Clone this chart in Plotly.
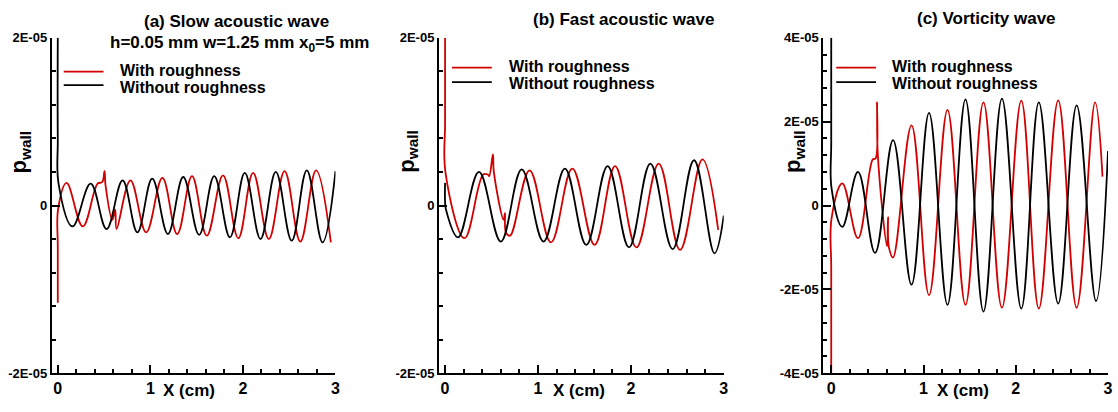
import plotly.graph_objects as go

W, H = 1118, 412
RED = "#d20000"
FONT = "Liberation Sans, Arial, sans-serif"

# ---- data (x in cm, p_wall in units of 1E-05) ----
a_black_x = [0.0, 0.0, 0.01, 0.16, 0.355, 0.527, 0.70, 0.86, 1.02, 1.19, 1.355, 1.527, 1.69, 1.86, 2.02, 2.19, 2.355, 2.527, 2.69, 2.86, 3.0]
a_black_y = [2.0, 0.8, 0.25, -0.25, 0.26, -0.28, 0.30, -0.32, 0.32, -0.34, 0.34, -0.35, 0.35, -0.38, 0.39, -0.40, 0.40, -0.42, 0.42, -0.44, 0.41]
a_red_x = [0.0, 0.0, 0.005, 0.095, 0.27, 0.43, 0.48, 0.505, 0.515, 0.59, 0.62, 0.635, 0.785, 0.955, 1.13, 1.29, 1.45, 1.61, 1.785, 1.95, 2.11, 2.28, 2.45, 2.62, 2.79, 2.95]
a_red_y = [-1.16, -0.5, -0.03, 0.27, -0.25, 0.26, 0.28, 0.41, 0.25, -0.17, -0.05, -0.28, 0.30, -0.32, 0.33, -0.34, 0.35, -0.36, 0.36, -0.39, 0.39, -0.40, 0.41, -0.43, 0.42, -0.44]

b_black_x = [0.0, 0.0, 0.01, 0.14, 0.365, 0.60, 0.825, 1.06, 1.29, 1.52, 1.75, 1.98, 2.21, 2.45, 2.68, 2.90, 3.0]
b_black_y = [0.27, 0.05, -0.05, -0.38, 0.40, -0.43, 0.43, -0.43, 0.44, -0.47, 0.47, -0.50, 0.50, -0.52, 0.54, -0.57, -0.12]
b_red_x = [0.0, 0.0, 0.006, 0.21, 0.41, 0.46, 0.475, 0.515, 0.525, 0.63, 0.645, 0.655, 0.70, 0.91, 1.14, 1.37, 1.61, 1.83, 2.06, 2.30, 2.53, 2.77, 2.94]
b_red_y = [2.0, 1.0, 0.38, -0.39, 0.37, 0.37, 0.35, 0.61, 0.40, -0.17, -0.09, -0.32, -0.36, 0.42, -0.44, 0.44, -0.47, 0.47, -0.50, 0.50, -0.53, 0.55, -0.29]

c_black_x = [0.0, 0.0, 0.004, 0.12, 0.29, 0.475, 0.67, 0.87, 1.06, 1.26, 1.455, 1.65, 1.85, 2.06, 2.25, 2.46, 2.66, 2.87, 3.0]
c_black_y = [4.0, 1.5, 0.4, -0.51, 0.80, -1.13, 1.56, -1.89, 2.21, -2.37, 2.53, -2.53, 2.55, -2.46, 2.46, -2.34, 2.39, -2.28, 1.3]
c_red_x = [0.0, 0.0, 0.004, 0.12, 0.29, 0.45, 0.48, 0.496, 0.505, 0.605, 0.615, 0.625, 0.67, 0.87, 1.06, 1.26, 1.455, 1.65, 1.85, 2.06, 2.25, 2.46, 2.66, 2.86, 2.94]
c_red_y = [-4.0, -1.5, -0.3, 0.53, -0.78, 1.10, 1.12, 2.46, 1.2, -0.97, -0.28, -1.0, -1.24, 1.91, -2.14, 2.28, -2.37, 2.46, -2.44, 2.50, -2.46, 2.51, -2.44, 2.46, 0.69]

panel_titles = ["(a) Slow acoustic wave", "(b) Fast acoustic wave", "(c) Vorticity wave"]
subtitle = "h=0.05 mm w=1.25 mm x<sub>0</sub>=5 mm"
legend_labels = ["With roughness", "Without roughness"]
x_ticks = [0, 1, 2, 3]
x_ticktext = ["0", "1", "2", "3"]
y_ticks_ab = [-2, 0, 2]
y_ticktext_ab = ["-2E-05", "0", "2E-05"]
y_ticks_c = [-4, -2, 0, 2, 4]
y_ticktext_c = ["-4E-05", "-2E-05", "0", "2E-05", "4E-05"]
x_title = "X (cm)"
y_title = "p<sub>wall</sub>"


def px(x):
    return x / W


def py(y):
    return 1 - y / H


fig = go.Figure()
series = [
    (a_red_x, a_red_y, a_black_x, a_black_y, "x", "y"),
    (b_red_x, b_red_y, b_black_x, b_black_y, "x2", "y2"),
    (c_red_x, c_red_y, c_black_x, c_black_y, "x3", "y3"),
]
for rx, ry, bx, by, xa, ya in series:
    fig.add_trace(go.Scatter(x=rx, y=ry, mode="lines", xaxis=xa, yaxis=ya,
                             line=dict(color=RED, width=1.8, shape="spline", smoothing=1.1),
                             showlegend=False, name=legend_labels[0]))
    fig.add_trace(go.Scatter(x=bx, y=by, mode="lines", xaxis=xa, yaxis=ya,
                             line=dict(color="black", width=1.8, shape="spline", smoothing=1.1),
                             showlegend=False, name=legend_labels[1]))

ydom = [py(380), py(32)]
xdoms = [[px(52), px(337)], [px(441), px(727)], [px(827), px(1113)]]
xranges = [[-0.065, 3.0], [-0.065, 3.0], [-0.086, 3.0]]
yranges = [[-2, 2], [-2, 2], [-4, 4]]
yticks = [(y_ticks_ab, y_ticktext_ab), (y_ticks_ab, y_ticktext_ab), (y_ticks_c, y_ticktext_c)]

layout = dict(
    width=W, height=H, margin=dict(l=0, r=0, t=0, b=0),
    paper_bgcolor="white", plot_bgcolor="white",
    font=dict(family=FONT, color="black"),
)
for i in range(3):
    sfx = "" if i == 0 else str(i + 1)
    layout["xaxis" + sfx] = dict(
        domain=xdoms[i], range=xranges[i], anchor="y" + sfx,
        showline=True, linecolor="black", linewidth=2, mirror=False,
        showgrid=False, zeroline=False,
        ticks="inside", ticklen=8, tickwidth=2, tickcolor="black",
        tickvals=x_ticks, ticktext=x_ticktext,
        tickfont=dict(family=FONT, size=16, weight="bold", color="black"),
        minor=dict(dtick=0.2, tick0=0, ticks="inside", ticklen=4, tickwidth=1.5, tickcolor="black", showgrid=False),
    )
    layout["yaxis" + sfx] = dict(
        domain=ydom, range=yranges[i], anchor="x" + sfx,
        showline=True, linecolor="black", linewidth=2, mirror=False,
        showgrid=False, zeroline=False,
        ticks="inside", ticklen=8, tickwidth=2, tickcolor="black",
        tickvals=yticks[i][0], ticktext=yticks[i][1],
        tickfont=dict(family=FONT, size=13, weight="bold", color="black"),
        minor=dict(dtick=0.4, tick0=0, ticks="inside", ticklen=4, tickwidth=1.5, tickcolor="black", showgrid=False),
    )
fig.update_layout(**layout)

ann = []
title_pos = [(238, 15), (626, 13), (991, 12)]
for t, (x, y) in zip(panel_titles, title_pos):
    ann.append(dict(text="<b>%s</b>" % t, x=px(x), y=py(y), xref="paper", yref="paper",
                    showarrow=False, xanchor="center", yanchor="middle",
                    font=dict(family=FONT, size=17, color="black")))
ann.append(dict(text="<b>%s</b>" % subtitle, x=px(108), y=py(38), xref="paper", yref="paper",
                showarrow=False, xanchor="left", yanchor="middle",
                font=dict(family=FONT, size=17, color="black")))

for x in (190, 582, 967):
    ann.append(dict(text="<b>%s</b>" % x_title, x=px(x), y=py(398), xref="paper", yref="paper",
                    showarrow=False, xanchor="center", yanchor="middle",
                    font=dict(family=FONT, size=17, color="black")))
for x in (20, 409, 797):
    ann.append(dict(text="<b>%s</b>" % y_title, x=px(x), y=py(150), xref="paper", yref="paper",
                    showarrow=False, xanchor="center", yanchor="middle", textangle=-90,
                    font=dict(family=FONT, size=22, color="black")))

# legends: (line x0, x1, y red, y black, text x, text y red, text y black)
legs = [(64, 104, 67, 81, 120, 65.5, 83.5), (454, 494, 63, 78, 510, 61.5, 79.5), (840, 880, 63, 78, 895, 61.5, 79.5)]
shapes = []
for x0, x1, yr, yb, tx, tyr, tyb in legs:
    shapes.append(dict(type="line", xref="paper", yref="paper", x0=px(x0), x1=px(x1), y0=py(yr), y1=py(yr),
                       line=dict(color=RED, width=1.8)))
    shapes.append(dict(type="line", xref="paper", yref="paper", x0=px(x0), x1=px(x1), y0=py(yb), y1=py(yb),
                       line=dict(color="black", width=1.8)))
    for lab, ty in zip(legend_labels, (tyr, tyb)):
        ann.append(dict(text="<b>%s</b>" % lab, x=px(tx), y=py(ty), xref="paper", yref="paper",
                        showarrow=False, xanchor="left", yanchor="middle", borderpad=0,
                        font=dict(family=FONT, size=16, color="black")))

fig.update_layout(annotations=ann, shapes=shapes)
fig.write_html("out.html")
